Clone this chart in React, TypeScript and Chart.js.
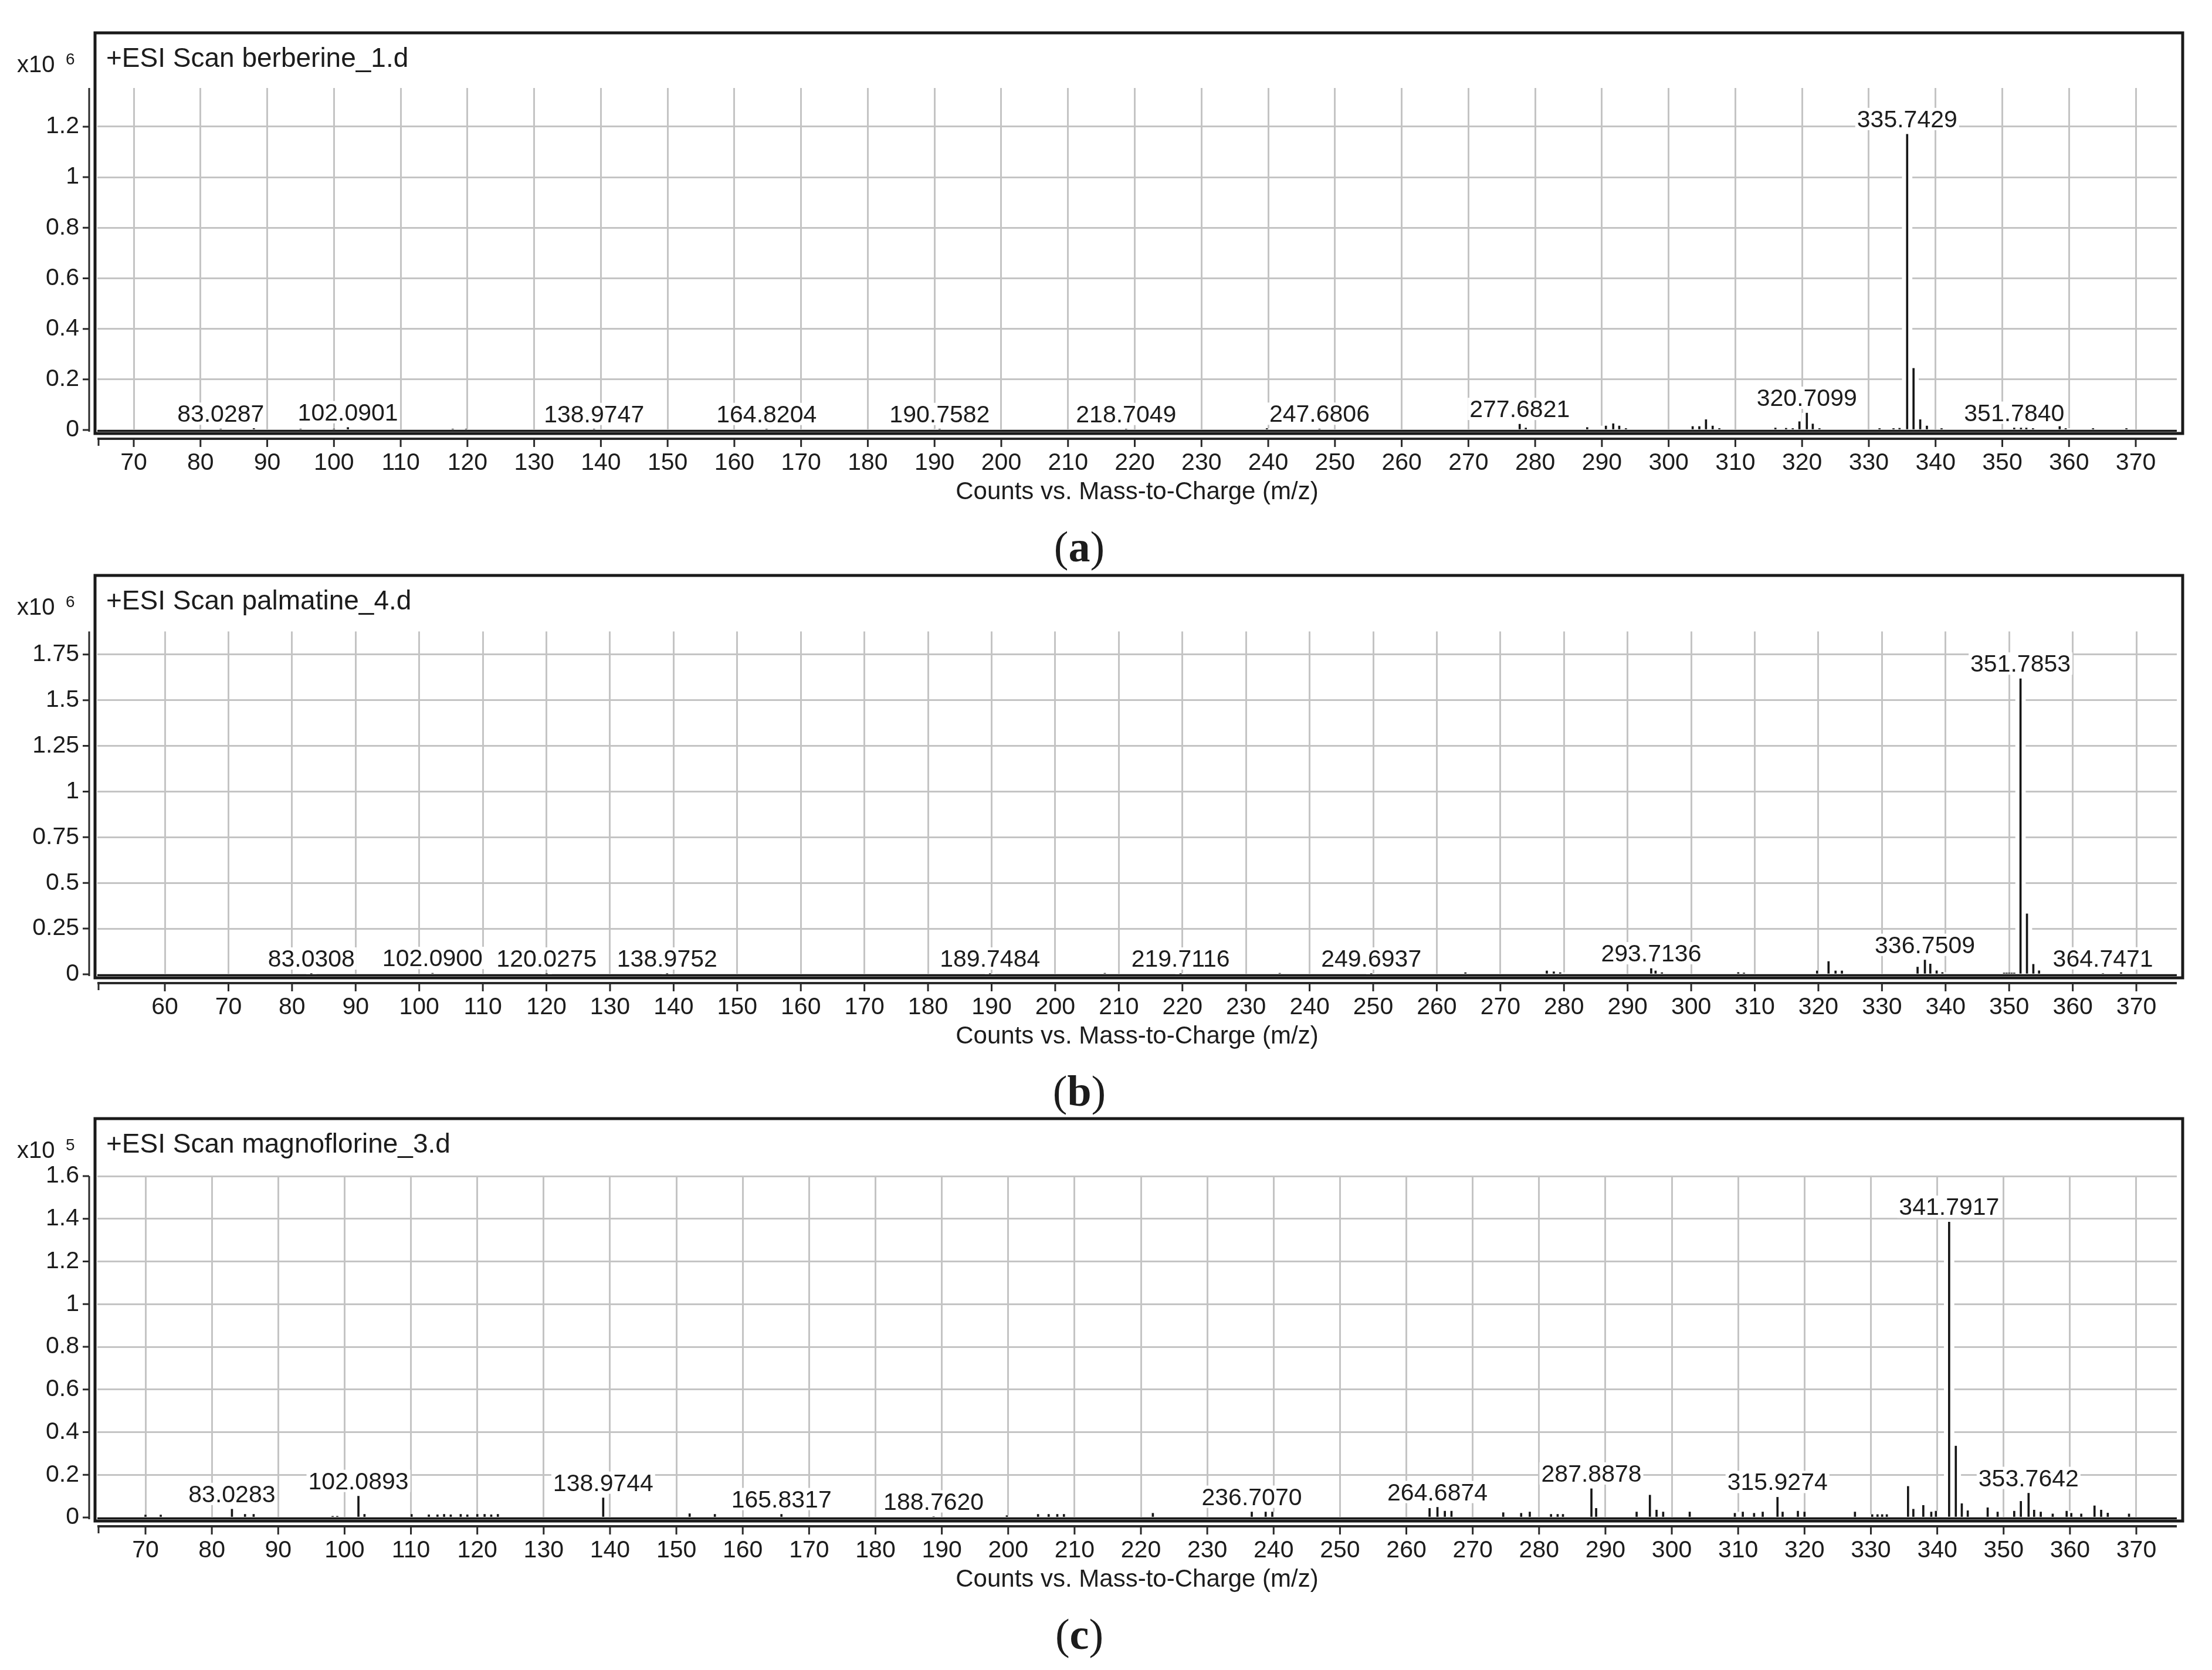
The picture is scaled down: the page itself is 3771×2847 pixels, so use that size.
import React, { useEffect, useRef } from "react";
import { Chart, registerables } from "chart.js";

Chart.register(...registerables);

// ---------------- DATA ----------------
const axisTitle = "Counts vs. Mass-to-Charge (m/z)";

// (a) berberine, counts x10^6
const titleA = "+ESI Scan berberine_1.d";
const exponentA = "6";
const captionA = "a";
const mzA = [83.0287, 88.0, 95.0, 100.0, 102.0901, 117.8, 119.8, 138.9747, 164.8204, 190.7582, 218.7049, 239.8, 247.6806, 277.6821, 278.6, 287.8, 290.6, 291.7, 292.6, 293.6, 303.6, 304.6, 305.6, 306.6, 307.6, 316.0, 317.6, 318.6, 319.6, 320.7099, 321.6, 322.6, 331.6, 333.7, 334.6, 335.7429, 336.7, 337.7, 338.7, 340.9, 351.784, 352.8, 353.6, 354.6, 358.6, 359.5, 363.6, 368.6];
const intA = [0.004, 0.006, 0.004, 0.004, 0.01, 0.004, 0.004, 0.003, 0.003, 0.003, 0.003, 0.006, 0.004, 0.023, 0.008, 0.01, 0.016, 0.025, 0.016, 0.006, 0.014, 0.014, 0.041, 0.016, 0.006, 0.008, 0.007, 0.006, 0.033, 0.067, 0.024, 0.006, 0.006, 0.006, 0.007, 1.17, 0.244, 0.041, 0.016, 0.006, 0.008, 0.008, 0.008, 0.006, 0.014, 0.006, 0.006, 0.006];
const peakLabelsA = ["83.0287", "102.0901", "138.9747", "164.8204", "190.7582", "218.7049", "247.6806", "277.6821", "320.7099", "335.7429", "351.7840"];
const xTicksA = [70, 80, 90, 100, 110, 120, 130, 140, 150, 160, 170, 180, 190, 200, 210, 220, 230, 240, 250, 260, 270, 280, 290, 300, 310, 320, 330, 340, 350, 360, 370];
const yTicksA = [0, 0.2, 0.4, 0.6, 0.8, 1, 1.2];

// (b) palmatine, counts x10^6
const titleB = "+ESI Scan palmatine_4.d";
const exponentB = "6";
const captionB = "b";
const mzB = [83.0308, 102.09, 120.0275, 138.9752, 189.7484, 207.8, 219.7116, 235.3, 249.6937, 264.5, 277.3, 278.4, 279.4, 293.7136, 294.4, 295.4, 307.4, 308.3, 319.8, 321.6, 322.7, 323.7, 335.6, 336.7509, 337.6, 338.6, 339.5, 349.2, 349.6, 350.0, 350.4, 350.8, 351.7853, 352.8, 353.8, 354.7, 364.7471, 367.6];
const intB = [0.003, 0.006, 0.003, 0.003, 0.003, 0.006, 0.003, 0.006, 0.003, 0.009, 0.019, 0.014, 0.009, 0.032, 0.019, 0.009, 0.01, 0.008, 0.019, 0.07, 0.019, 0.019, 0.04, 0.078, 0.057, 0.02, 0.01, 0.008, 0.008, 0.008, 0.008, 0.008, 1.617, 0.331, 0.055, 0.02, 0.004, 0.009];
const peakLabelsB = ["83.0308", "102.0900", "120.0275", "138.9752", "189.7484", "219.7116", "249.6937", "293.7136", "336.7509", "351.7853", "364.7471"];
const xTicksB = [60, 70, 80, 90, 100, 110, 120, 130, 140, 150, 160, 170, 180, 190, 200, 210, 220, 230, 240, 250, 260, 270, 280, 290, 300, 310, 320, 330, 340, 350, 360, 370];
const yTicksB = [0, 0.25, 0.5, 0.75, 1, 1.25, 1.5, 1.75];

// (c) magnoflorine, counts x10^5
const titleC = "+ESI Scan magnoflorine_3.d";
const exponentC = "5";
const captionC = "c";
const mzC = [70.0, 72.3, 83.0283, 85.0, 86.3, 98.2, 98.9, 102.0893, 103.0, 110.1, 112.7, 114.0, 115.0, 116.0, 117.5, 118.5, 120.0, 121.1, 122.1, 123.1, 138.9744, 152.0, 155.8, 165.8317, 188.762, 199.8, 204.5, 206.1, 207.4, 208.4, 221.8, 236.707, 238.8, 239.8, 263.5, 264.6874, 265.8, 266.8, 274.6, 277.3, 278.6, 281.8, 282.8, 283.6, 287.8878, 288.6, 294.7, 296.7, 297.7, 298.7, 302.7, 309.5, 310.7, 312.4, 313.7, 315.9274, 316.7, 319.0, 320.0, 327.6, 330.2, 331.0, 331.7, 332.4, 335.6, 336.4, 337.9, 339.1, 339.8, 341.7917, 342.8, 343.7, 344.6, 347.6, 349.1, 351.6, 352.6, 353.7642, 354.6, 355.6, 357.4, 359.5, 360.2, 361.7, 363.7, 364.7, 365.7, 368.9];
const intC = [0.012, 0.012, 0.039, 0.015, 0.015, 0.006, 0.006, 0.1, 0.015, 0.015, 0.013, 0.013, 0.015, 0.013, 0.015, 0.013, 0.015, 0.015, 0.013, 0.015, 0.092, 0.018, 0.015, 0.015, 0.004, 0.009, 0.015, 0.015, 0.015, 0.015, 0.02, 0.026, 0.026, 0.026, 0.043, 0.048, 0.03, 0.03, 0.023, 0.02, 0.026, 0.015, 0.015, 0.015, 0.135, 0.043, 0.026, 0.105, 0.035, 0.026, 0.026, 0.02, 0.026, 0.02, 0.026, 0.095, 0.026, 0.03, 0.026, 0.026, 0.014, 0.014, 0.014, 0.014, 0.146, 0.039, 0.057, 0.026, 0.03, 1.385, 0.335, 0.065, 0.032, 0.046, 0.026, 0.03, 0.076, 0.114, 0.035, 0.026, 0.017, 0.03, 0.02, 0.017, 0.055, 0.035, 0.021, 0.017];
const peakLabelsC = ["83.0283", "102.0893", "138.9744", "165.8317", "188.7620", "236.7070", "264.6874", "287.8878", "315.9274", "341.7917", "353.7642"];
const xTicksC = [70, 80, 90, 100, 110, 120, 130, 140, 150, 160, 170, 180, 190, 200, 210, 220, 230, 240, 250, 260, 270, 280, 290, 300, 310, 320, 330, 340, 350, 360, 370];
const yTicksC = [0, 0.2, 0.4, 0.6, 0.8, 1, 1.2, 1.4, 1.6];

// ---------------- LAYOUT / STYLE ----------------
const PAGE_W = 3771;
const PAGE_H = 2847;
const FONT = '"Liberation Sans", Arial, Helvetica, sans-serif';
const SERIF = '"Liberation Serif", "Times New Roman", serif';
const TEXT = "#1c1c1c";
const GRID = "#c4c4c4";
const INK = "#161616";

type Panel = {
  top: number; height: number; padTop: number; padBottom: number;
  xMin: number; xMax: number; yMax: number; frameOff: number;
  mz: number[]; inten: number[]; peakLabels: string[];
  xTicks: number[]; yTicks: number[];
  title: string; exponent: string; caption: string;
};

const panels: Panel[] = [
  { top: 0, height: 990, padTop: 150, padBottom: 125, xMin: 64.55, xMax: 376.15, yMax: 1.353, frameOff: -94,
    mz: mzA, inten: intA, peakLabels: peakLabelsA, xTicks: xTicksA, yTicks: yTicksA, title: titleA, exponent: exponentA, caption: captionA },
  { top: 960, height: 940, padTop: 116.5, padBottom: 107, xMin: 49.39, xMax: 376.36, yMax: 1.876, frameOff: -95.5,
    mz: mzB, inten: intB, peakLabels: peakLabelsB, xTicks: xTicksB, yTicks: yTicksB, title: titleB, exponent: exponentB, caption: captionB },
  { top: 1880, height: 967, padTop: 125, padBottom: 128, xMin: 62.75, xMax: 376.1, yMax: 1.6, frameOff: -98,
    mz: mzC, inten: intC, peakLabels: peakLabelsC, xTicks: xTicksC, yTicks: yTicksC, title: titleC, exponent: exponentC, caption: captionC },
];

const fmtY = (v: number) => String(+Number(v).toFixed(2));

function makeDecor(p: Panel) {
  return {
    id: "spectrumDecor",
    afterDatasetsDraw(chart: any) {
      const ctx = chart.ctx as CanvasRenderingContext2D;
      const xs = chart.scales.x;
      const ys = chart.scales.y;
      ctx.save();
      ctx.font = `41px ${FONT}`;
      ctx.textAlign = "center";
      ctx.textBaseline = "alphabetic";
      p.peakLabels.forEach((lab) => {
        const target = parseFloat(lab);
        const i = p.mz.findIndex((m) => Math.abs(m - target) < 1e-6);
        if (i < 0) return;
        const px = xs.getPixelForValue(p.mz[i]);
        const py = ys.getPixelForValue(p.inten[i]) - 12;
        const w = ctx.measureText(lab).width;
        ctx.fillStyle = "#ffffff";
        ctx.fillRect(px - w / 2 - 3, py - 33, w + 6, 38);
        ctx.fillStyle = TEXT;
        ctx.fillText(lab, px, py);
      });
      ctx.restore();
    },
    afterDraw(chart: any) {
      const ctx = chart.ctx as CanvasRenderingContext2D;
      const a = chart.chartArea;
      const xs = chart.scales.x;
      const ys = chart.scales.y;
      ctx.save();
      // baseline
      ctx.strokeStyle = INK;
      ctx.lineWidth = 3;
      ctx.beginPath();
      ctx.moveTo(a.left, a.bottom + 1.5);
      ctx.lineTo(a.right, a.bottom + 1.5);
      ctx.stroke();
      // frame
      const fTop = a.top + p.frameOff;
      ctx.lineWidth = 5;
      ctx.strokeStyle = "#1a1a1a";
      ctx.strokeRect(a.left - 4, fTop, a.right + 10 - (a.left - 4), a.bottom + 6 - fTop);
      // y axis line + ticks
      ctx.strokeStyle = "#2a2a2a";
      ctx.lineWidth = 3;
      const yAxX = a.left - 14;
      ctx.beginPath();
      ctx.moveTo(yAxX, a.top);
      ctx.lineTo(yAxX, a.bottom + 3);
      p.yTicks.forEach((v) => {
        const py = ys.getPixelForValue(v);
        ctx.moveTo(yAxX - 11, py);
        ctx.lineTo(yAxX, py);
      });
      ctx.stroke();
      // x axis line + ticks
      const xAxY = a.bottom + 15;
      ctx.lineWidth = 4;
      ctx.beginPath();
      ctx.moveTo(a.left, xAxY);
      ctx.lineTo(a.right, xAxY);
      ctx.stroke();
      ctx.lineWidth = 3;
      ctx.beginPath();
      ctx.moveTo(a.left + 2, xAxY);
      ctx.lineTo(a.left + 2, xAxY + 12);
      p.xTicks.forEach((v) => {
        const px = xs.getPixelForValue(v);
        ctx.moveTo(px, xAxY);
        ctx.lineTo(px, xAxY + 14);
      });
      ctx.stroke();
      // scan title
      ctx.fillStyle = TEXT;
      ctx.textAlign = "left";
      ctx.textBaseline = "alphabetic";
      ctx.font = `46px ${FONT}`;
      ctx.fillText(p.title, a.left + 15, fTop + 58);
      // exponent label
      ctx.font = `40px ${FONT}`;
      ctx.fillText("x10", 29, fTop + 67);
      ctx.font = `28px ${FONT}`;
      ctx.fillText(p.exponent, 112, fTop + 54);
      // caption (a)/(b)/(c)
      const size = 74;
      const cx = 1840;
      const by = a.bottom + 224;
      ctx.font = `${size}px ${SERIF}`;
      const w1 = ctx.measureText("(").width;
      const w3 = ctx.measureText(")").width;
      ctx.font = `bold ${size}px ${SERIF}`;
      const w2 = ctx.measureText(p.caption).width;
      const x0 = cx - (w1 + w2 + w3) / 2;
      ctx.font = `${size}px ${SERIF}`;
      ctx.fillText("(", x0, by);
      ctx.font = `bold ${size}px ${SERIF}`;
      ctx.fillText(p.caption, x0 + w1, by);
      ctx.font = `${size}px ${SERIF}`;
      ctx.fillText(")", x0 + w1 + w2, by);
      ctx.restore();
    },
  };
}

function SpectrumPanel({ p }: { p: Panel }) {
  const ref = useRef<HTMLCanvasElement | null>(null);
  useEffect(() => {
    if (!ref.current) return;
    const points = p.mz.map((m, i) => ({ x: m, y: p.inten[i] }));
    const chart = new Chart(ref.current, {
      type: "bar",
      data: {
        datasets: [
          { label: "halo", data: points, backgroundColor: "#ffffff", borderWidth: 0, barThickness: 17, grouped: false, order: 2 } as any,
          { label: "spectrum", data: points, backgroundColor: INK, borderWidth: 0, barThickness: 3, grouped: false, order: 1 } as any,
        ],
      },
      options: {
        responsive: false,
        animation: false,
        devicePixelRatio: 1,
        events: [],
        layout: { autoPadding: false, padding: { left: 0, right: 60, top: p.padTop, bottom: p.padBottom } },
        plugins: { legend: { display: false }, tooltip: { enabled: false }, title: { display: false } },
        scales: {
          x: {
            type: "linear",
            offset: false,
            min: p.xMin,
            max: p.xMax,
            bounds: "data",
            afterBuildTicks: (s: any) => { s.ticks = p.xTicks.map((v) => ({ value: v })); },
            afterFit: (s: any) => { s.height = 132; },
            grid: { color: GRID, lineWidth: 3, drawTicks: false, offset: false },
            border: { display: false },
            ticks: { padding: 32, autoSkip: false, maxRotation: 0, color: TEXT, font: { family: FONT, size: 41 }, callback: (v: any) => String(v) },
            title: { display: true, text: axisTitle, color: TEXT, font: { family: FONT, size: 42 }, padding: { top: 0, bottom: 0 } },
          },
          y: {
            type: "linear",
            min: 0,
            max: p.yMax,
            bounds: "data",
            afterBuildTicks: (s: any) => { s.ticks = p.yTicks.map((v) => ({ value: v })); },
            afterFit: (s: any) => { s.width = 166; },
            grid: { color: GRID, lineWidth: 3, drawTicks: false },
            border: { display: false },
            ticks: { padding: 31, autoSkip: false, color: TEXT, font: { family: FONT, size: 41 }, callback: (v: any) => fmtY(v) },
          },
        },
      } as any,
      plugins: [makeDecor(p)],
    });
    return () => chart.destroy();
  }, [p]);
  return (
    <canvas
      ref={ref}
      width={PAGE_W}
      height={p.height}
      style={{ position: "absolute", left: 0, top: p.top, width: PAGE_W, height: p.height }}
    />
  );
}

export default function App() {
  return (
    <div style={{ position: "absolute", left: 0, top: 0, width: PAGE_W, height: PAGE_H, overflow: "hidden", background: "#ffffff" }}>
      {panels.map((p, i) => (
        <SpectrumPanel key={i} p={p} />
      ))}
    </div>
  );
}
